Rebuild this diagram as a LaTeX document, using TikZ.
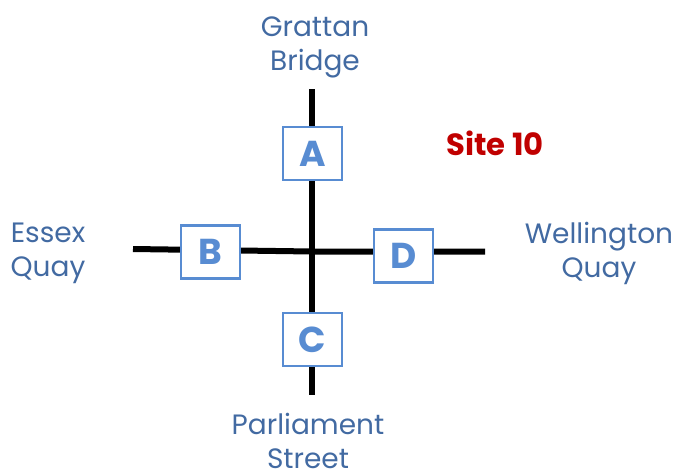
\documentclass[tikz,border=0pt]{standalone}
\usepackage{fontspec}
\setmainfont{Poppins}
\definecolor{labelblue}{RGB}{66,106,162}
\definecolor{boxblue}{RGB}{88,140,210}
\definecolor{sitered}{RGB}{192,0,0}
\tikzset{
  road/.style={line width=4.5pt, black},
  sitebox/.style={draw=boxblue, line width=1.8pt, fill=white, minimum width=44pt, minimum height=40pt, inner sep=0pt, text=boxblue, font=\fontsize{27}{30}\selectfont\bfseries},
  placelabel/.style={text=labelblue, align=center, inner sep=0pt, font=\fontsize{21}{25.5}\selectfont},
}
\begin{document}
\begin{tikzpicture}[x=0.75pt,y=-0.75pt]
\useasboundingbox (0,0) rectangle (681,472);
\coordinate (N) at (312,89);
\coordinate (S) at (312,395);
\coordinate (W) at (133,249);
\coordinate (X) at (312,251.5);
\coordinate (E) at (485,251.5);
\draw[road] (N) -- (S);
\draw[road] (W) -- (X) -- (E);
\node[sitebox] (A) at (312.5,153.5) {A};
\node[sitebox] (B) at (210.5,252) {B};
\node[sitebox] (C) at (312.5,339.5) {C};
\node[sitebox] (D) at (403.5,256) {D};
\node[placelabel] (grattan) at (315,47) {Grattan\\Bridge};
\node[placelabel] (essex) at (48,253) {Essex\\Quay};
\node[placelabel] (wellington) at (599,253) {Wellington\\Quay};
\node[placelabel] (parliament) at (308,440.5) {Parliament\\Street};
\node[text=sitered, inner sep=0pt, font=\fontsize{23}{27}\selectfont\bfseries] (site) at (495,143) {Site 10};
\end{tikzpicture}
\end{document}
